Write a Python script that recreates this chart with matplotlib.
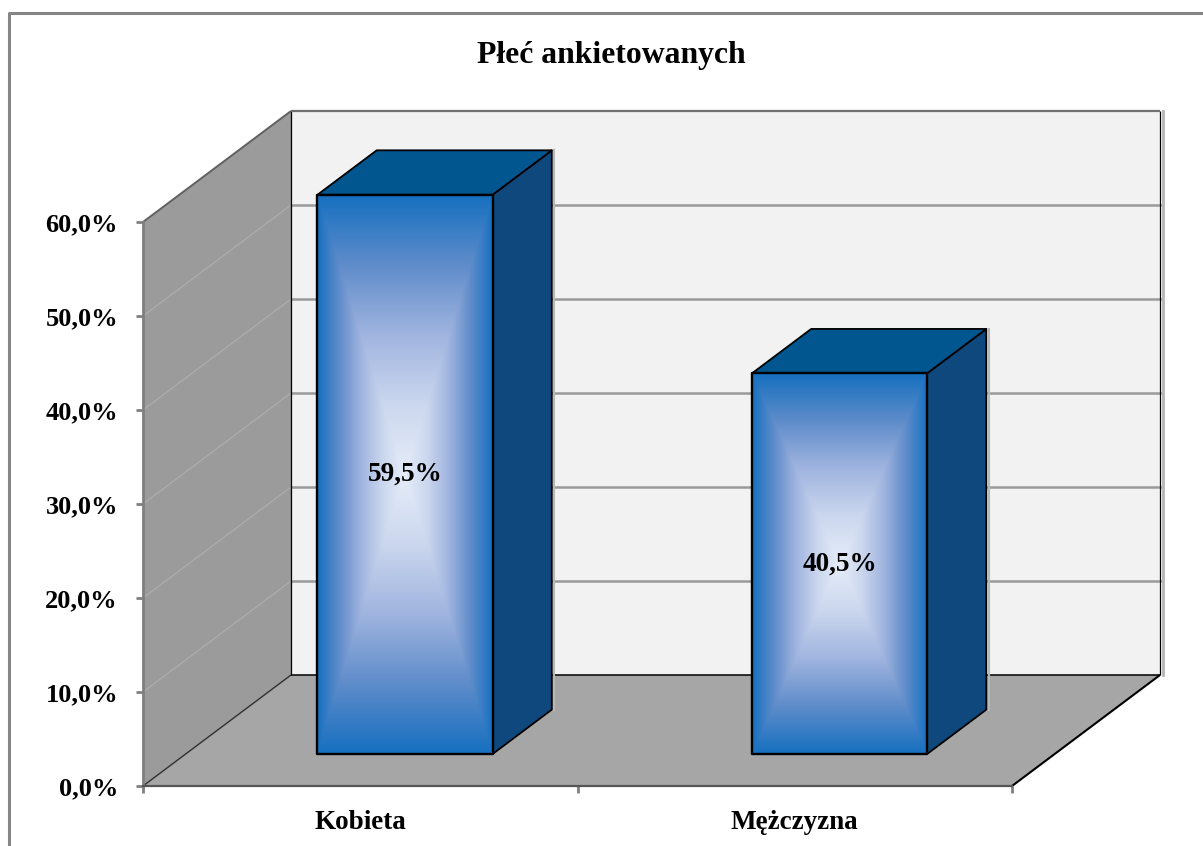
import numpy as np
import matplotlib
matplotlib.use("Agg")
from matplotlib import pyplot as plt
from matplotlib.colors import LinearSegmentedColormap
from matplotlib.lines import Line2D
from matplotlib.patches import Polygon

categories = ["Kobieta", "Mężczyzna"]
values = [59.5, 40.5]
y_ticks = [0, 10, 20, 30, 40, 50, 60]
title = "Płeć ankietowanych"

W, H = 1203, 846
# oblique projection: how far the back of the chart box is shifted
DEPTH_X = 148 / 434.5
DEPTH_Y = 111 / 9.4
BAR_WIDTH = 0.403
BAR_D0 = 0.288
BAR_D1 = 0.688

plt.rcParams['font.family'] = ['Liberation Serif', 'DejaVu Serif']


def proj(x, y, d):
    return x + d * DEPTH_X, y + d * DEPTH_Y


def fmt(v):
    return f"{v:.1f}%".replace(".", ",")


def face(ax, corners, color, z, edge="black", lw=1.0):
    pts = [proj(*c) for c in corners]
    ax.add_patch(Polygon(pts, closed=True, facecolor=color, edgecolor=edge,
                         linewidth=lw, zorder=z, clip_on=False, joinstyle="round"))


fig = plt.figure(figsize=(W / 100, H / 100), dpi=100, facecolor="white")
ax = fig.add_axes([143 / W, 1 - 786 / H, 869 / W, 564 / H])
ax.patch.set_visible(False)
ax.set_xlim(0, 2)
ax.set_ylim(0, 60)

ymax = y_ticks[-1]
# light shadow on the right of the back wall
sx = 2.5 / 434.5
ax.add_line(Line2D([proj(2, 0, 1)[0] + sx] * 2, [proj(2, 0, 1)[1], proj(2, ymax, 1)[1]],
                   color="#b5b5b5", lw=2, zorder=0.5, clip_on=False))
face(ax, [(0, 0, 1), (2, 0, 1), (2, ymax, 1), (0, ymax, 1)], "#f2f2f2", 1, edge="none")
face(ax, [(0, 0, 0), (0, ymax, 0), (0, ymax, 1), (0, 0, 1)], "#9b9b9b", 1.1, edge="none")
face(ax, [(0, 0, 0), (2, 0, 0), (2, 0, 1), (0, 0, 1)], "#a6a6a6", 1.2, edge="none")

# grid on the back and left walls
for v in y_ticks[1:-1]:
    x0, y0 = proj(0, v, 0)
    x1, y1 = proj(0, v, 1)
    x2, y2 = proj(2, v, 1)
    ax.add_line(Line2D([x0, x1], [y0, y1], color="#adadad", lw=0.9, zorder=2, clip_on=False))
    ax.add_line(Line2D([x1, x2], [y1, y2], color="#9a9a9a", lw=1.8, zorder=2, clip_on=False))

# box edges
def edge(a, b, color, lw):
    pa, pb = proj(*a), proj(*b)
    ax.add_line(Line2D([pa[0], pb[0]], [pa[1], pb[1]], color=color, lw=lw, zorder=2.5,
                       clip_on=False, solid_capstyle="butt"))


edge((0, 0, 0), (0, 0, 1), "#303030", 1.0)
edge((2, 0, 0), (2, 0, 1), "black", 1.5)
edge((0, 0, 1), (2, 0, 1), "black", 1.1)
edge((0, 0, 1), (0, ymax, 1), "black", 0.9)
edge((2, 0, 1), (2, ymax, 1), "black", 0.9)
edge((0, ymax, 1), (2, ymax, 1), "#707070", 1.6)
edge((0, ymax, 0), (0, ymax, 1), "#606060", 1.4)

# rectangular gradient for the front faces of the bars
cmap = LinearSegmentedColormap.from_list(
    "barfill", [(0, "#e6edf9"), (0.25, "#cbd7ee"), (0.5, "#a0b4df"), (0.75, "#5f8cca"), (1, "#1670c0")])
u = np.linspace(-1, 1, 401)
uu, vv = np.meshgrid(u, u)
grad = np.maximum(np.abs(uu), np.abs(vv))

for i, val in enumerate(values):
    left = i + 0.505 - BAR_WIDTH / 2
    right = left + BAR_WIDTH
    # shadow along back edge of the bar
    px, py = proj(right, 0, BAR_D1)
    qx, qy = proj(right, val, BAR_D1)
    ax.add_line(Line2D([px + sx, qx + sx], [py, qy], color="#b8b8b8", lw=1.5, zorder=3, clip_on=False))
    face(ax, [(right, 0, BAR_D0), (right, 0, BAR_D1), (right, val, BAR_D1), (right, val, BAR_D0)],
         "#0e487c", 4, lw=1.3)
    face(ax, [(left, val, BAR_D0), (right, val, BAR_D0), (right, val, BAR_D1), (left, val, BAR_D1)],
         "#01568f", 4, lw=1.3)
    x0, y0 = proj(left, 0, BAR_D0)
    x1, y1 = proj(right, val, BAR_D0)
    ax.imshow(grad, cmap=cmap, vmin=0, vmax=1, extent=[x0, x1, y0, y1], aspect="auto",
              interpolation="bilinear", zorder=5, clip_on=False)
    face(ax, [(left, 0, BAR_D0), (right, 0, BAR_D0), (right, val, BAR_D0), (left, val, BAR_D0)],
         "none", 6, lw=1.7)
    ax.text((x0 + x1) / 2, (y0 + y1) / 2, fmt(val), ha="center", va="center",
            fontsize=19.5, fontweight="bold", color="black", zorder=7)

ax.set_xlim(0, 2)
ax.set_ylim(0, 60)

# axes, ticks and labels
for s in ("top", "right"):
    ax.spines[s].set_visible(False)
ax.spines["left"].set_color("#808080")
ax.spines["left"].set_linewidth(2.0)
ax.spines["left"].set_zorder(3)
ax.spines["bottom"].set_color("#555555")
ax.spines["bottom"].set_linewidth(1.6)
ax.spines["bottom"].set_zorder(3)

ax.set_yticks(y_ticks)
ax.set_yticklabels([fmt(v) for v in y_ticks], fontsize=19, fontweight="bold")
ax.tick_params(axis="y", length=5, width=2.0, color="#808080", pad=13)
ax.set_xticks([0, 1, 2])
ax.set_xticklabels([])
ax.tick_params(axis="x", which="major", length=5, width=2.0, color="#808080")
ax.set_xticks([0.5, 1.5], minor=True)
ax.set_xticklabels(categories, minor=True, fontsize=19.5, fontweight="bold")
ax.tick_params(axis="x", which="minor", length=0, pad=17)

fig.text(611 / W, 1 - 55 / H, title, ha="center", va="center", fontsize=22.8, fontweight="bold")

# chart frame, only the top and left sides are inside the picture
fig.add_artist(Line2D([9 / W, 9 / W, 1], [0, 1 - 13.5 / H, 1 - 13.5 / H],
                      transform=fig.transFigure, color="#868686", lw=2.2))

fig.savefig("out.png", dpi=100)
plt.close(fig)
